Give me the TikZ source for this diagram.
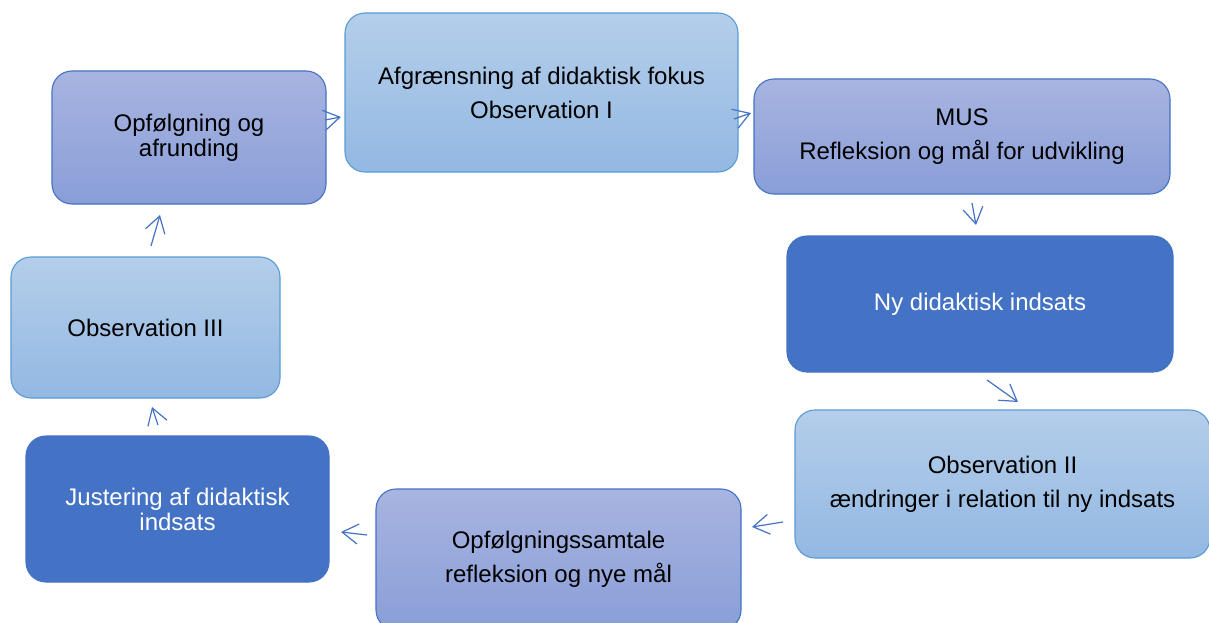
\documentclass[tikz,border=0pt]{standalone}
\usepackage{fontspec}
\setmainfont{Liberation Sans}
\usetikzlibrary{arrows.meta}
\definecolor{lbtop}{HTML}{B4CEEA}
\definecolor{lbbot}{HTML}{93B8E2}
\definecolor{lbline}{HTML}{5B9BD5}
\definecolor{pbtop}{HTML}{A8B4E0}
\definecolor{pbbot}{HTML}{899ED8}
\definecolor{pbline}{HTML}{4472C4}
\definecolor{dk}{HTML}{4472C4}
\definecolor{arrc}{HTML}{4472C4}
\tikzset{
  box/.style={rounded corners=20pt, line width=1.1pt, align=center, inner sep=0pt,
    font=\fontsize{24}{25}\selectfont},
  lightbox/.style={box, draw=lbline, top color=lbtop, bottom color=lbbot},
  purplebox/.style={box, draw=pbline, top color=pbtop, bottom color=pbbot},
  darkbox/.style={box, draw=dk, fill=dk, text=white},
  arr/.style={draw=arrc, line width=1.2pt, -{Straight Barb[length=16pt,width=20pt,line width=1.2pt]}}
}
\begin{document}
\begin{tikzpicture}[x=1pt,y=-1pt]
\useasboundingbox (0,0) rectangle (1209,623);
\clip (0,0) rectangle (1209,623);
\fill[white] (0,0) rectangle (1209,623);

\node[purplebox, minimum width=274pt, minimum height=133pt] (n1) at (189,137.5) {Opfølgning og\\afrunding};
\node[lightbox, minimum width=393pt, minimum height=159pt] (n2) at (541.5,92.5) {Afgrænsning af didaktisk fokus\\[9pt]Observation I};
\node[purplebox, minimum width=416pt, minimum height=115pt] (n3) at (962,136.5) {MUS\\[9pt]Refleksion og mål for udvikling};
\node[darkbox, minimum width=386pt, minimum height=136pt] (n4) at (980,304) {Ny didaktisk indsats};
\node[lightbox, minimum width=415pt, minimum height=148pt] (n5) at (1002.5,484) {Observation II\\[9pt]ændringer i relation til ny indsats};
\node[purplebox, minimum width=365pt, minimum height=141pt] (n6) at (558.5,559.5) {Opfølgningssamtale\\[9pt]refleksion og nye mål};
\node[darkbox, minimum width=303pt, minimum height=146pt] (n7) at (177.5,509) {Justering af didaktisk\\indsats};
\node[lightbox, minimum width=269pt, minimum height=141pt] (n8) at (145.5,327.5) {Observation III};

\coordinate (a1s) at (325,120); \coordinate (a1e) at (341,117);
\coordinate (a2s) at (734,119); \coordinate (a2e) at (751,113);
\coordinate (a3s) at (972,203); \coordinate (a3e) at (976,225);
\coordinate (a4s) at (987,380); \coordinate (a4e) at (1018,402);
\coordinate (a5s) at (783,522); \coordinate (a5e) at (752,527);
\coordinate (a6s) at (367,535); \coordinate (a6e) at (341,532);
\coordinate (a7s) at (158,425); \coordinate (a7e) at (152,407);
\coordinate (a8s) at (151,246); \coordinate (a8e) at (160,215);

\draw[arr] (a1s) -- (a1e);
\draw[arr] (a2s) -- (a2e);
\draw[arr] (a3s) -- (a3e);
\draw[arr] (a4s) -- (a4e);
\draw[arr] (a5s) -- (a5e);
\draw[arr] (a6s) -- (a6e);
\draw[arr] (a7s) -- (a7e);
\draw[arr] (a8s) -- (a8e);
\end{tikzpicture}
\end{document}
